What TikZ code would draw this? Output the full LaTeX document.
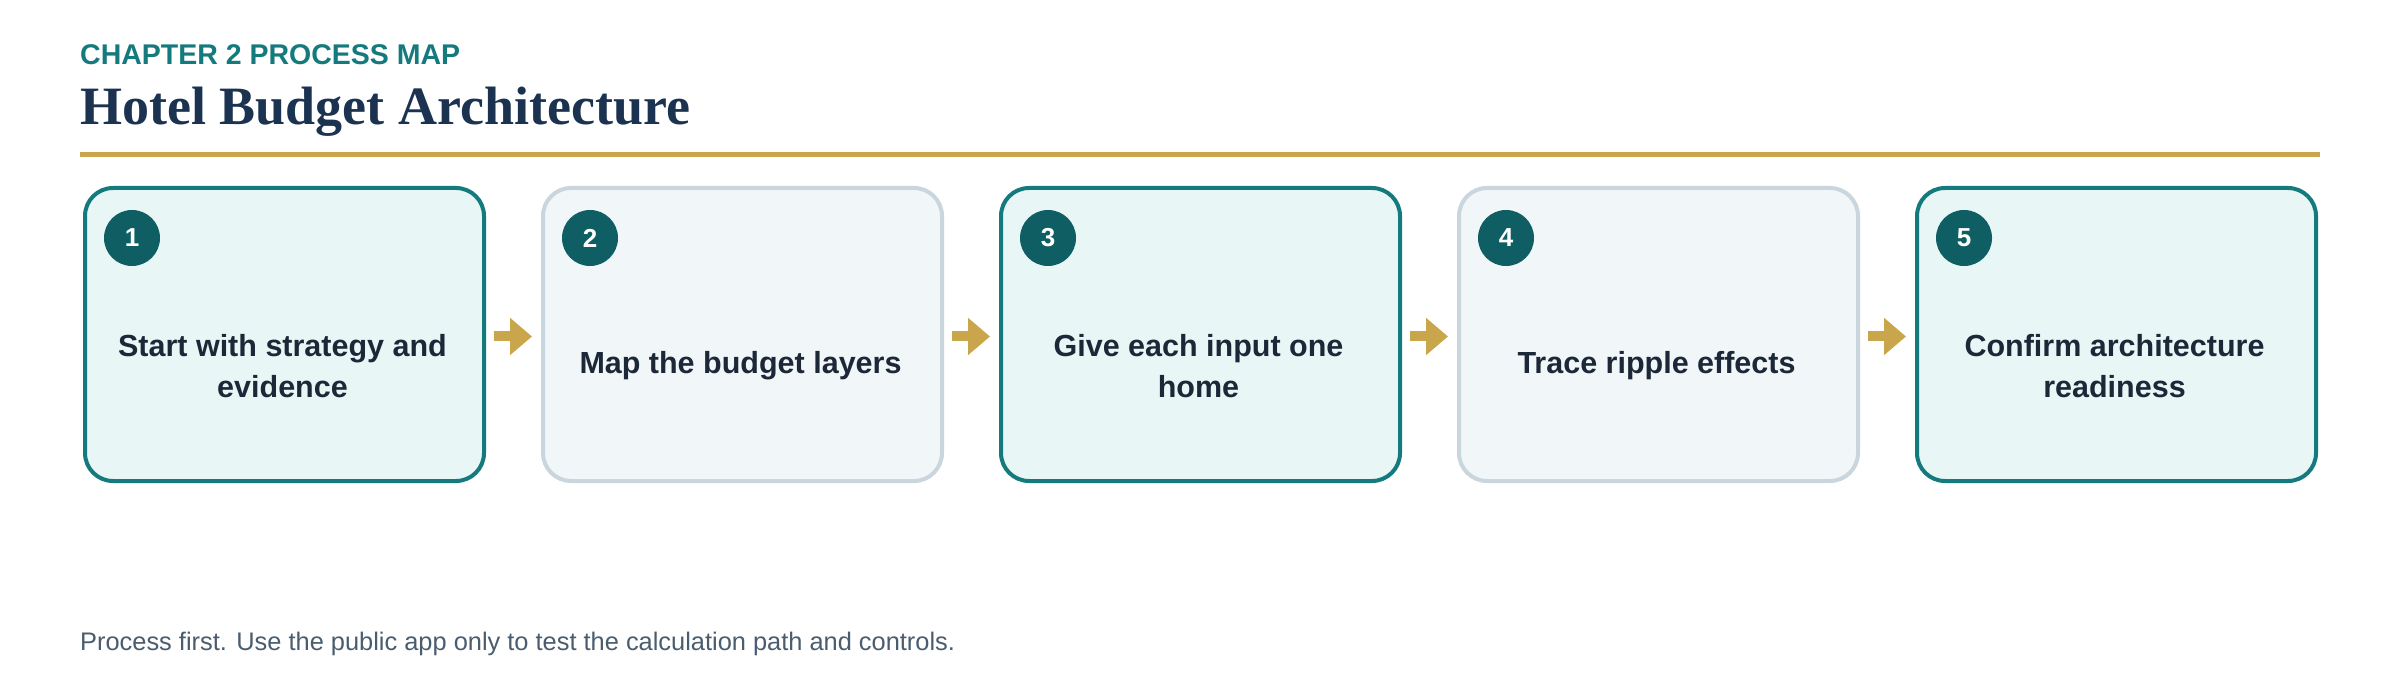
\documentclass[tikz,border=0pt]{standalone}
\usepackage{fontspec}
\usetikzlibrary{calc,arrows.meta}
\setmainfont{Liberation Sans}
\newfontfamily\titlefont{Liberation Serif}
\definecolor{teal}{HTML}{147A7D}
\definecolor{navy}{HTML}{1B3350}
\definecolor{gold}{HTML}{C9A54C}
\definecolor{fillA}{HTML}{E8F6F6}
\definecolor{fillB}{HTML}{F1F6F9}
\definecolor{lineB}{HTML}{C9D6DE}
\definecolor{circ}{HTML}{0E5E63}
\definecolor{ink}{HTML}{1C2838}
\definecolor{foot}{HTML}{4A5D6E}
\begin{document}
\begin{tikzpicture}[x=1pt,y=-1pt,
  box/.style={draw, line width=4pt, rounded corners=28pt, minimum width=399pt, minimum height=293pt, anchor=north west},
  boxA/.style={box, fill=fillA, draw=teal},
  boxB/.style={box, fill=fillB, draw=lineB},
  num/.style={circle, fill=circ, minimum size=56pt, inner sep=0pt, text=white, font=\fontsize{26}{30}\selectfont\bfseries},
  lbl/.style={text=ink, align=center, font=\fontsize{30.5}{41}\selectfont\bfseries},
  arr/.style={-{Triangle[length=22pt,width=36pt]}, line width=10pt, draw=gold}]
\useasboundingbox (0,0) rectangle (2400,700);
\fill[white] (0,0) rectangle (2400,700);
\node[anchor=base west, inner sep=0, text=teal, font=\fontsize{28.5}{34}\selectfont\bfseries] (ch) at (80,65) {CHAPTER 2 PROCESS MAP};
\node[anchor=base west, inner sep=0, text=navy, font=\titlefont\fontsize{54}{60}\selectfont\bfseries] (tt) at (80,125) {Hotel Budget Architecture};
\fill[gold] (80,152.5) rectangle (2320,157.5);
\foreach \i/\s/\t in {1/boxA/Start with strategy and\\evidence,2/boxB/Map the budget layers,3/boxA/Give each input one\\home,4/boxB/Trace ripple effects,5/boxA/Confirm architecture\\readiness}{
  \node[\s] (b\i) at ({83+458*(\i-1)},186) {};
  \node[num] (n\i) at ({132+458*(\i-1)},238) {\i};
  \node[lbl] (t\i) at ({282.5+458*(\i-1)},366) {\t};
}
\foreach \i [evaluate=\i as \j using int(\i+1)] in {1,2,3,4}{
  \coordinate (s\i) at ($(b\i.east)+(8pt,-2pt)$);
  \coordinate (e\i) at ($(b\j.west)+(-9pt,-2pt)$);
  \draw[arr] (s\i) -- (e\i);
}
\node[anchor=base west, inner sep=0, text=foot, font=\fontsize{25.4}{30}\selectfont] (ft) at (80,650) {Process first. Use the public app only to test the calculation path and controls.};
\end{tikzpicture}
\end{document}
